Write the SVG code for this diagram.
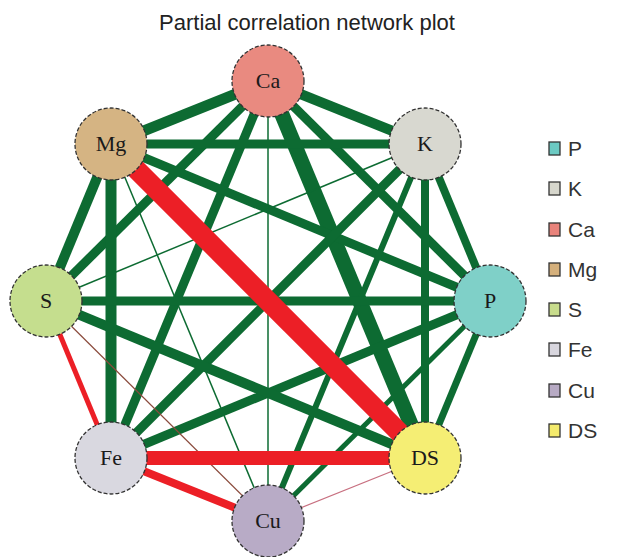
<svg xmlns="http://www.w3.org/2000/svg" width="618" height="557" viewBox="0 0 618 557">
<style>
.g{stroke:#0d6b32;stroke-linecap:butt;fill:none}
.r{stroke:#ec1f26;stroke-linecap:butt;fill:none}
.node circle{stroke:#333;stroke-width:1.3;stroke-dasharray:4 2}
.node text{font-family:"Liberation Serif","DejaVu Serif",serif;font-size:22px;fill:#1a1a1a;text-anchor:middle}
.leg rect{stroke:#333;stroke-width:1.3}
.leg text{font-family:"Liberation Sans",Arial,sans-serif;font-size:21px;fill:#333}
.title{font-family:"Liberation Sans",Arial,sans-serif;font-size:22px;fill:#222;text-anchor:middle}
</style>
<rect width="618" height="557" fill="#fff"/>
<text class="title" x="307" y="30">Partial correlation network plot</text>
<g id="edges">
<line class="g" x1="268" y1="81" x2="111" y2="144" stroke-width="11"/>
<line class="g" x1="268" y1="81" x2="425" y2="144" stroke-width="10"/>
<line class="g" x1="268" y1="81" x2="490" y2="301" stroke-width="9"/>
<line class="g" x1="268" y1="81" x2="425" y2="458" stroke-width="15"/>
<line class="g" x1="268" y1="81" x2="268" y2="521" stroke-width="1.5"/>
<line class="g" x1="268" y1="81" x2="111" y2="458" stroke-width="9"/>
<line class="g" x1="268" y1="81" x2="46" y2="301" stroke-width="9"/>
<line class="g" x1="111" y1="144" x2="425" y2="144" stroke-width="9"/>
<line class="g" x1="111" y1="144" x2="490" y2="301" stroke-width="9"/>
<line class="g" x1="111" y1="144" x2="268" y2="521" stroke-width="1.5"/>
<line class="g" x1="111" y1="144" x2="111" y2="458" stroke-width="11"/>
<line class="g" x1="111" y1="144" x2="46" y2="301" stroke-width="10"/>
<line class="g" x1="425" y1="144" x2="490" y2="301" stroke-width="8"/>
<line class="g" x1="425" y1="144" x2="425" y2="458" stroke-width="8"/>
<line class="g" x1="425" y1="144" x2="268" y2="521" stroke-width="6"/>
<line class="g" x1="425" y1="144" x2="111" y2="458" stroke-width="9"/>
<line class="g" x1="425" y1="144" x2="46" y2="301" stroke-width="1.5"/>
<line class="g" x1="490" y1="301" x2="46" y2="301" stroke-width="9"/>
<line class="g" x1="490" y1="301" x2="111" y2="458" stroke-width="9"/>
<line class="g" x1="490" y1="301" x2="268" y2="521" stroke-width="5"/>
<line class="g" x1="490" y1="301" x2="425" y2="458" stroke-width="7"/>
<line class="g" x1="46" y1="301" x2="425" y2="458" stroke-width="10"/>
<line x1="46" y1="301" x2="268" y2="521" stroke="#8a4a3c" stroke-width="1.2"/>
<line x1="268" y1="521" x2="425" y2="458" stroke="#c87080" stroke-width="1.2"/>
<line class="r" x1="46" y1="301" x2="111" y2="458" stroke-width="5"/>
<line class="r" x1="111" y1="458" x2="268" y2="521" stroke-width="8"/>
<line class="r" x1="111" y1="458" x2="425" y2="458" stroke-width="14"/>
<line class="r" x1="111" y1="144" x2="425" y2="458" stroke-width="20"/>
</g>
<g id="node-Ca" class="node"><circle cx="268" cy="81" r="36" fill="#e98a80"/><text x="268" y="88">Ca</text></g>
<g id="node-K" class="node"><circle cx="425" cy="144" r="36" fill="#d8d8d0"/><text x="425" y="151">K</text></g>
<g id="node-P" class="node"><circle cx="490" cy="301" r="36" fill="#7fd0c8"/><text x="490" y="308">P</text></g>
<g id="node-DS" class="node"><circle cx="425" cy="458" r="36" fill="#f5ee74"/><text x="425" y="465">DS</text></g>
<g id="node-Cu" class="node"><circle cx="268" cy="521" r="36" fill="#b8abc6"/><text x="268" y="528">Cu</text></g>
<g id="node-Fe" class="node"><circle cx="111" cy="458" r="36" fill="#d9d8e0"/><text x="111" y="465">Fe</text></g>
<g id="node-S" class="node"><circle cx="46" cy="301" r="36" fill="#c5de8e"/><text x="46" y="308">S</text></g>
<g id="node-Mg" class="node"><circle cx="111" cy="144" r="36" fill="#d5b483"/><text x="111" y="151">Mg</text></g>
<g id="legend" class="leg">
<rect x="549" y="142" width="11" height="13" fill="#6ccac3"/><text x="568" y="156">P</text>
<rect x="549" y="182" width="11" height="13" fill="#d6d6cc"/><text x="568" y="196">K</text>
<rect x="549" y="223" width="11" height="13" fill="#e9837b"/><text x="568" y="237">Ca</text>
<rect x="549" y="263" width="11" height="13" fill="#d5b07c"/><text x="568" y="277">Mg</text>
<rect x="549" y="303" width="11" height="13" fill="#c8dc8c"/><text x="568" y="317">S</text>
<rect x="549" y="343" width="11" height="13" fill="#d8d6de"/><text x="568" y="357">Fe</text>
<rect x="549" y="384" width="11" height="13" fill="#b7aac4"/><text x="568" y="398">Cu</text>
<rect x="549" y="424" width="11" height="13" fill="#f3ea6c"/><text x="568" y="438">DS</text>
</g>
</svg>
